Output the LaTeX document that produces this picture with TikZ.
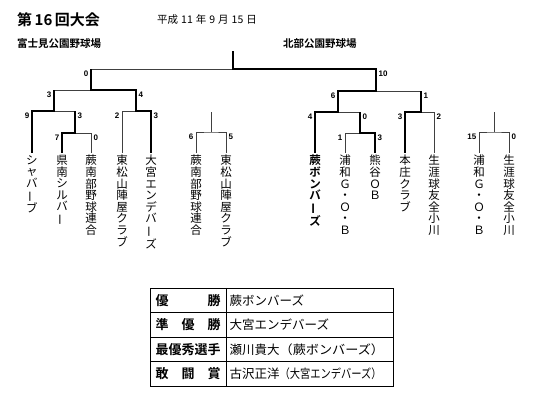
\documentclass[tikz,border=0pt]{standalone}
\usepackage{fontspec}
\usepackage{graphicx}
\newfontfamily\jp{Noto Sans CJK JP}[BoldFont={Noto Sans CJK JP Bold}]
\newfontfamily\numf{Liberation Sans}
\newcommand\vb{\rotatebox[origin=c]{90}{ー}}
\newcommand\ds{\hspace{3pt}}
\tikzset{
  loser/.style={draw=black!75, line width=0.7pt},
  winner/.style={draw=black, line width=2.6pt, line join=miter},
  scoreL/.style={anchor=north east, inner sep=0pt, font=\numf\bfseries\fontsize{8}{8}\selectfont},
  scoreR/.style={anchor=north west, inner sep=0pt, font=\numf\bfseries\fontsize{8}{8}\selectfont},
  leaf/.style={anchor=north, align=center, inner xsep=0pt, inner ysep=2pt, font=\jp\fontsize{11.5}{11.6}\selectfont},
  tabL/.style={anchor=center, inner sep=0pt, font=\jp\bfseries\fontsize{13}{13}\selectfont},
  tabR/.style={anchor=west, inner sep=0pt, font=\jp\fontsize{12.5}{12.5}\selectfont},
  grid/.style={draw=black, line width=0.8pt},
}
\begin{document}
\begin{tikzpicture}[x=1pt,y=-1pt]
\useasboundingbox (0,0) rectangle (550,406);
% headings
\node[anchor=west, inner sep=0pt, font=\jp\bfseries\fontsize{15}{15}\selectfont] (title) at (17,20) {第\,16\,回大会};
\node[anchor=west, inner sep=0pt, font=\jp\fontsize{10.5}{10.5}\selectfont] (date) at (157,20) {平成\ds 11\ds 年\ds 9\ds 月\ds 15\ds 日};
\node[anchor=west, inner sep=0pt, font=\jp\bfseries\fontsize{10.5}{10.5}\selectfont] (venueA) at (17,44) {富士見公園野球場};
\node[anchor=west, inner sep=0pt, font=\jp\bfseries\fontsize{10.5}{10.5}\selectfont] (venueB) at (283,44) {北部公園野球場};
% leaves
\node[leaf] (L1) at (32,153) {シ\\ャ\\バ\\\vb\\ブ};
\node[leaf] (L2) at (62,153) {県\\南\\シ\\ル\\バ\\\vb};
\node[leaf] (L3) at (91,153) {蕨\\南\\部\\野\\球\\連\\合};
\node[leaf] (L4) at (122,153) {東\\松\\山\\陣\\屋\\ク\\ラ\\ブ};
\node[leaf] (L5) at (151,153) {大\\宮\\エ\\ン\\デ\\バ\\\vb\\ズ};
\node[leaf] (M1) at (196,153) {蕨\\南\\部\\野\\球\\連\\合};
\node[leaf] (M2) at (226,153) {東\\松\\山\\陣\\屋\\ク\\ラ\\ブ};
\node[leaf, font=\jp\bfseries\fontsize{11.5}{11.6}\selectfont] (R1) at (315,153) {蕨\\ボ\\ン\\バ\\\vb\\ズ};
\node[leaf] (R2) at (345,153) {浦\\和\\Ｇ\\・\\Ｏ\\・\\Ｂ};
\node[leaf] (R3) at (375,153) {熊\\谷\\Ｏ\\Ｂ};
\node[leaf] (R4) at (405,153) {本\\庄\\ク\\ラ\\ブ};
\node[leaf] (R5) at (434,153) {生\\涯\\球\\友\\全\\小\\川};
\node[leaf] (N1) at (479,153) {浦\\和\\Ｇ\\・\\Ｏ\\・\\Ｂ};
\node[leaf] (N2) at (509,153) {生\\涯\\球\\友\\全\\小\\川};
% match points
\coordinate (mA) at (75,133);
\coordinate (mB) at (54,111);
\coordinate (mC) at (91,90);
\coordinate (mD) at (136,111);
\coordinate (mF) at (233,69);
\coordinate (fTop) at (233,51);
\coordinate (mG) at (360,133);
\coordinate (mH) at (338,112);
\coordinate (mI) at (421,112);
\coordinate (mE) at (376,91);
\coordinate (mM1) at (211,132);
\coordinate (mM1top) at (211,112);
\coordinate (mM2) at (494,132);
\coordinate (mM2top) at (494,112);
% thin (losing) lines
\draw[loser] (L3.north) |- (mA);
\draw[loser] (mA |- mB) -- (mB);
\draw[loser] (mB |- mC) -- (mC);
\draw[loser] (L4.north) |- (mD);
\draw[loser] (mC |- mF) -- (mF);
\draw[loser] (R2.north) |- (mG);
\draw[loser] (mG |- mH) -- (mH);
\draw[loser] (R5.north) |- (mI);
\draw[loser] (mI |- mE) -- (mE);
\draw[loser] (M1.north) |- (mM1) -| (M2.north);
\draw[loser] (mM1) -- (mM1top);
\draw[loser] (N1.north) |- (mM2) -| (N2.north);
\draw[loser] (mM2) -- (mM2top);
% thick (winning) lines
\draw[winner] (L1.north) |- (mB) -- (mB |- mC);
\draw[winner] (L2.north) |- (mA) -- (mA |- mB);
\draw[winner] (L5.north) |- (mD) -- (mD |- mC) -- (mC) -- (mC |- mF);
\draw[winner] (R3.north) |- (mG) -- (mG |- mH);
\draw[winner] (R4.north) |- (mI) -- (mI |- mE);
\draw[winner] (R1.north) |- (mH) -- (mH |- mE) -- (mE) -- (mE |- mF) -- (mF) -- (fTop);
% scores
\node[scoreL] (s1) at (88.5,71) {0};
\node[scoreR] (s2) at (378.5,71) {10};
\node[scoreL] (s3) at (51.5,92) {3};
\node[scoreR] (s4) at (138.5,92) {4};
\node[scoreL] (s5) at (29.5,113) {9};
\node[scoreR] (s6) at (77.5,113) {3};
\node[scoreL] (s7) at (59.5,135) {7};
\node[scoreR] (s8) at (93.5,135) {0};
\node[scoreL] (s9) at (119.5,113) {2};
\node[scoreR] (s10) at (153.5,113) {3};
\node[scoreL] (s11) at (193.5,134) {6};
\node[scoreR] (s12) at (228.5,134) {5};
\node[scoreL] (s13) at (335.5,93) {6};
\node[scoreR] (s14) at (423.5,93) {1};
\node[scoreL] (s15) at (312.5,114) {4};
\node[scoreR] (s16) at (362.5,114) {0};
\node[scoreL] (s17) at (342.5,135) {1};
\node[scoreR] (s18) at (377.5,135) {3};
\node[scoreL] (s19) at (402.5,114) {3};
\node[scoreR] (s20) at (436.5,114) {2};
\node[scoreL] (s21) at (476.5,134) {15};
\node[scoreR] (s22) at (511.5,134) {0};
% table
\draw[grid] (150,288) rectangle (393,386);
\draw[grid] (226,288) -- (226,386);
\draw[grid] (150,312.5) -- (393,312.5);
\draw[grid] (150,337) -- (393,337);
\draw[grid] (150,361.5) -- (393,361.5);
\node[tabL] (t1l) at (188,300.5) {優　　　勝};
\node[tabL] (t2l) at (188,325) {準　優　勝};
\node[tabL] (t3l) at (188,349.5) {最優秀選手};
\node[tabL] (t4l) at (188,374) {敢　闘　賞};
\node[tabR] (t1r) at (229.5,300.5) {蕨ボンバーズ};
\node[tabR] (t2r) at (229.5,325) {大宮エンデバーズ};
\node[tabR] (t3r) at (229.5,349.5) {瀬川貴大\scalebox{1.05}[1]{（蕨ボンバーズ）}};
\node[tabR] (t4r) at (229.5,374) {古沢正洋\scalebox{0.82}[1]{（大宮エンデバーズ）}};
\end{tikzpicture}
\end{document}
